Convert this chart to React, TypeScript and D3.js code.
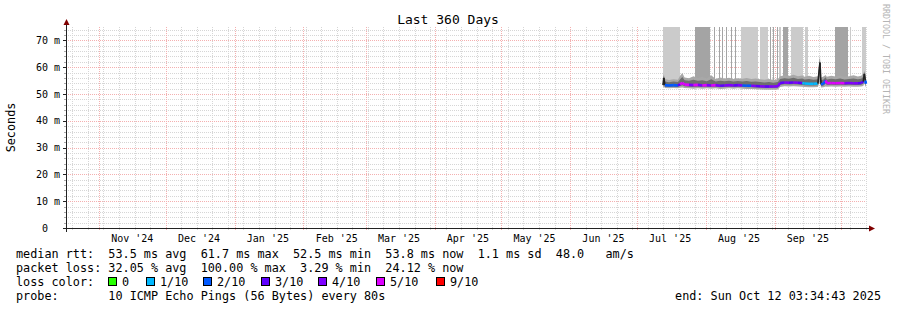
import React from 'react';
import * as d3 from 'd3';

const startTime = '2024-10-17T03:34:43Z';
const endTime = '2025-10-12T03:34:43Z';

const yTickValues = [0, 10, 20, 30, 40, 50, 60, 70];
const yTickLabels = ['0', '10 m', '20 m', '30 m', '40 m', '50 m', '60 m', '70 m'];

const monthStarts = ['2024-11-01', '2024-12-01', '2025-01-01', '2025-02-01', '2025-03-01', '2025-04-01', '2025-05-01', '2025-06-01', '2025-07-01', '2025-08-01', '2025-09-01', '2025-10-01'];
const monthLabels = ["Nov '24", "Dec '24", "Jan '25", "Feb '25", "Mar '25", "Apr '25", "May '25", "Jun '25", "Jul '25", "Aug '25", "Sep '25", ''];

// median rtt series (ms), loss count (out of 10), smoke range (ms)
const pointTimes = [
  '2025-07-12T19:00Z', '2025-07-13T04:00Z', '2025-07-13T16:00Z', '2025-07-15T12:00Z', '2025-07-17T12:00Z',
  '2025-07-19T12:00Z', '2025-07-20T12:00Z', '2025-07-21T12:00Z', '2025-07-22T12:00Z', '2025-07-24T12:00Z',
  '2025-07-26T12:00Z', '2025-07-28T12:00Z', '2025-07-30T12:00Z', '2025-08-01T12:00Z', '2025-08-03T12:00Z',
  '2025-08-05T12:00Z', '2025-08-07T12:00Z', '2025-08-09T12:00Z', '2025-08-11T12:00Z', '2025-08-13T12:00Z',
  '2025-08-15T12:00Z', '2025-08-17T12:00Z', '2025-08-19T12:00Z', '2025-08-21T12:00Z', '2025-08-23T12:00Z',
  '2025-08-25T12:00Z', '2025-08-27T12:00Z', '2025-08-29T12:00Z', '2025-08-31T12:00Z', '2025-09-02T12:00Z',
  '2025-09-03T12:00Z', '2025-09-05T12:00Z', '2025-09-07T12:00Z', '2025-09-09T12:00Z', '2025-09-11T12:00Z',
  '2025-09-13T12:00Z', '2025-09-14T12:00Z', '2025-09-16T12:00Z', '2025-09-18T12:00Z', '2025-09-20T12:00Z',
  '2025-09-21T10:00Z', '2025-09-21T22:00Z', '2025-09-23T00:00Z', '2025-09-24T00:00Z', '2025-09-24T12:00Z',
  '2025-09-26T12:00Z', '2025-09-28T12:00Z', '2025-09-30T12:00Z', '2025-10-02T12:00Z', '2025-10-04T12:00Z',
  '2025-10-06T12:00Z', '2025-10-08T12:00Z', '2025-10-10T00:00Z', '2025-10-10T22:00Z', '2025-10-11T10:00Z',
  '2025-10-11T20:00Z', '2025-10-12T03:34Z',
];
const medianMs = [
  53.3, 56.0, 53.3, 53.2, 53.3, 53.2, 53.6, 54.2, 53.5, 53.4,
  53.3, 53.4, 53.2, 53.3, 53.2, 53.3, 53.1, 53.2, 53.3, 53.2,
  53.3, 53.2, 53.1, 53.1, 53.0, 52.9, 52.8, 52.8, 52.8, 52.9,
  54.1, 54.3, 54.2, 54.3, 54.2, 54.1, 53.9, 53.8, 53.8, 53.9,
  61.7, 53.6, 53.8, 55.0, 54.0, 54.1, 54.0, 54.1, 54.0, 54.1,
  54.0, 54.0, 54.1, 54.6, 57.5, 55.0, 53.8,
];
const lossCount = [
  9, 2, 2, 2, 2, 2, 3, 5, 5, 5,
  4, 5, 4, 5, 4, 5, 4, 3, 4, 4,
  3, 4, 2, 2, 4, 3, 4, 3, 4, 4,
  4, 3, 4, 3, 4, 3, 1, 1, 1, 1,
  2, 2, 2, 2, 5, 5, 5, 5, 5, 4,
  4, 4, 3, 3, 3, 3, 2,
];
const smokeLo = [
  52.4, 52.8, 52.2, 52.1, 52.2, 52.1, 52.3, 52.4, 52.2, 52.1,
  52.0, 52.1, 52.0, 52.1, 52.0, 52.1, 51.9, 52.0, 52.1, 52.0,
  52.1, 52.0, 51.9, 51.9, 51.8, 51.7, 51.6, 51.6, 51.6, 51.7,
  52.6, 52.9, 52.8, 52.9, 52.8, 52.7, 52.6, 52.5, 52.5, 52.6,
  54.5, 52.4, 52.5, 52.8, 52.7, 52.8, 52.7, 52.8, 52.7, 52.8,
  52.7, 52.7, 52.8, 53.0, 54.0, 53.0, 52.6,
];
const smokeHi = [
  55.3, 57.5, 55.6, 55.2, 55.5, 55.3, 56.8, 57.8, 56.2, 55.9,
  56.6, 56.0, 56.4, 55.8, 57.0, 55.6, 56.2, 55.8, 56.1, 55.6,
  55.9, 55.7, 56.0, 55.6, 55.8, 55.5, 55.3, 55.6, 55.2, 55.5,
  56.6, 57.0, 56.7, 57.2, 56.6, 56.9, 56.4, 56.8, 56.3, 56.6,
  64.5, 56.2, 56.5, 57.1, 56.4, 56.8, 56.5, 56.9, 56.4, 56.6,
  57.0, 56.5, 56.8, 57.6, 58.8, 57.1, 55.8,
];

// periods where some pings went off the top of the graph
const bandStarts = [
  '2025-07-12T19:00Z', '2025-07-27T04:30Z', '2025-08-04T17:45Z', '2025-08-06T23:45Z', '2025-08-08T08:10Z',
  '2025-08-10T03:20Z', '2025-08-12T09:20Z', '2025-08-14T04:30Z', '2025-08-16T21:20Z', '2025-08-25T10:30Z',
  '2025-08-29T22:30Z', '2025-08-31T07:00Z', '2025-09-02T02:10Z', '2025-09-02T23:45Z', '2025-09-04T19:00Z',
  '2025-09-08T09:20Z', '2025-09-14T16:30Z', '2025-09-28T04:30Z', '2025-10-04T22:30Z', '2025-10-10T08:10Z',
];
const bandEnds = [
  '2025-07-20T10:30Z', '2025-08-02T22:30Z', '2025-08-05T04:30Z', '2025-08-07T10:30Z', '2025-08-08T19:00Z',
  '2025-08-10T14:00Z', '2025-08-12T20:00Z', '2025-08-14T15:15Z', '2025-08-24T13:00Z', '2025-08-29T01:00Z',
  '2025-08-30T09:15Z', '2025-08-31T23:00Z', '2025-09-02T18:30Z', '2025-09-03T21:20Z', '2025-09-07T01:00Z',
  '2025-09-13T19:00Z', '2025-09-16T01:00Z', '2025-10-04T01:00Z', '2025-10-05T09:20Z', '2025-10-12T03:20Z',
];
const bandShade = [
  'light', 'dark', 'dark', 'dark', 'dark',
  'dark', 'dark', 'dark', 'light', 'light',
  'dark', 'dark', 'dark', 'light', 'dark',
  'light', 'light', 'dark', 'light', 'light',
];

const legendLossLabels = ['0', '1/10', '2/10', '3/10', '4/10', '5/10', '9/10'];
const legendLossColors = ['#26ff00', '#00b8ff', '#0059ff', '#5e00ff', '#7e00ff', '#dd00ff', '#ff0000'];

const lossColor = (n: number) => {
  if (n <= 0) return legendLossColors[0];
  if (n === 1) return legendLossColors[1];
  if (n === 2) return legendLossColors[2];
  if (n === 3) return legendLossColors[3];
  if (n === 4) return legendLossColors[4];
  if (n < 9) return legendLossColors[5];
  return legendLossColors[6];
};

const FONT = '"DejaVu Sans Mono", monospace';

export default function App() {
  const W = 897, H = 310;
  const X0 = 66, X1 = 866, Y0 = 228, Y1 = 27;
  const t0 = new Date(startTime), t1 = new Date(endTime);
  const x = d3.scaleUtc().domain([t0, t1]).range([X0, X1]);
  const y = d3.scaleLinear().domain([0, 75]).range([Y0, Y1]);

  const pts = pointTimes.map((t, i) => ({
    t: new Date(t), m: medianMs[i], l: lossCount[i], lo: smokeLo[i], hi: smokeHi[i],
  }));

  const weeks = d3.utcSunday.range(t0, t1);
  const months = monthStarts.map((s) => new Date(s + 'T00:00:00Z'));
  const minorY = d3.range(2, 75, 2).filter((v) => v % 10 !== 0);

  const smokeArea = d3.area<any>().x((d) => x(d.t)).y0((d) => y(d.lo)).y1((d) => y(d.hi));
  const innerArea = d3.area<any>().x((d) => x(d.t))
    .y0((d) => y((d.lo + d.m) / 2)).y1((d) => y(d.m + (d.hi - d.m) * 0.6));

  const segs = pts.slice(1).map((p, i) => ({ a: pts[i], b: p }));

  const legendSquares = [108, 146, 203, 261, 318, 376, 436];

  return (
    <svg width={W} height={H} style={{ display: 'block', position: 'absolute', left: 0, top: 0, background: '#fff' }}
      xmlns="http://www.w3.org/2000/svg">
      <rect x={0} y={0} width={W} height={H} fill="#fff" />
      {/* minor grid */}
      <g stroke="#d6d6d6" strokeWidth={1} strokeDasharray="1,1" shapeRendering="crispEdges">
        {minorY.map((v) => (
          <line key={'hy' + v} x1={X0} x2={X1} y1={Math.round(y(v)) + 0.5} y2={Math.round(y(v)) + 0.5} />
        ))}
        {weeks.map((d, i) => (
          <line key={'wx' + i} x1={Math.round(x(d)) + 0.5} x2={Math.round(x(d)) + 0.5} y1={Y1} y2={Y0 + 2} />
        ))}
      </g>
      {/* major grid */}
      <g stroke="#f4b0b0" strokeWidth={1} strokeDasharray="1,1" shapeRendering="crispEdges">
        {yTickValues.filter((v) => v > 0).map((v) => (
          <line key={'my' + v} x1={X0} x2={X1} y1={Math.round(y(v)) + 0.5} y2={Math.round(y(v)) + 0.5} />
        ))}
        {months.map((d, i) => (
          <line key={'mx' + i} x1={Math.round(x(d)) + 0.5} x2={Math.round(x(d)) + 0.5} y1={Y1} y2={Y0 + 3} />
        ))}
      </g>
      {/* off-scale smoke bands */}
      <g shapeRendering="crispEdges">
        {bandStarts.map((s, i) => {
          const xa = x(new Date(s)), xb = x(new Date(bandEnds[i]));
          return (
            <rect key={'b' + i} x={xa} y={y(75)} width={Math.max(1, xb - xa)} height={y(55) - y(75)}
              fill={bandShade[i] === 'dark' ? '#a4a4a4' : '#cbcbcb'} />
          );
        })}
      </g>
      {/* smoke */}
      <path d={smokeArea(pts) || ''} fill="#a8a8a8" />
      <path d={innerArea(pts) || ''} fill="#6e6e6e" />
      {/* median colored by loss */}
      <g fill="none" strokeLinejoin="round">
        {segs.map((s, i) => {
          const spike = Math.abs(s.b.m - s.a.m) > 2;
          return (
            <line key={'s' + i} x1={x(s.a.t)} y1={y(s.a.m)} x2={x(s.b.t)} y2={y(s.b.m)}
              stroke={spike ? '#202020' : lossColor(s.b.l)} strokeWidth={spike ? 1.6 : 2.6} />
          );
        })}
      </g>
      {/* axes */}
      <g stroke="#222" strokeWidth={1} shapeRendering="crispEdges">
        <line x1={63} x2={870} y1={Y0 + 0.5} y2={Y0 + 0.5} />
        <line x1={X0 + 0.5} x2={X0 + 0.5} y1={Y0 + 4} y2={23} />
        {yTickValues.map((v) => (
          <line key={'yt' + v} x1={63} x2={X0} y1={Math.round(y(v)) + 0.5} y2={Math.round(y(v)) + 0.5} />
        ))}
        {minorY.map((v) => (
          <line key={'ymt' + v} x1={64} x2={X0} y1={Math.round(y(v)) + 0.5} y2={Math.round(y(v)) + 0.5} stroke="#aaa" />
        ))}
      </g>
      <path d={`M${X0 + 0.5},19 L${X0 + 3.5},25 L${X0 - 2.5},25 Z`} fill="#800000" />
      <path d={`M875,${Y0 + 0.5} L869,${Y0 - 2.5} L869,${Y0 + 3.5} Z`} fill="#800000" />
      {/* y labels */}
      <g fontFamily={FONT} fontSize={10} fill="#000">
        {yTickValues.map((v, i) => (
          v === 0
            ? <text key={'yl' + v} x={48} y={y(v) + 3.6} textAnchor="end">{yTickLabels[i]}</text>
            : <text key={'yl' + v} x={60} y={y(v) + 3.6} textAnchor="end">{yTickLabels[i]}</text>
        ))}
        {months.map((d, i) => {
          const c = d3.utcDay.offset(d, 15);
          if (c > t1 || !monthLabels[i]) return null;
          return <text key={'xl' + i} x={x(c)} y={241.5} textAnchor="middle">{monthLabels[i]}</text>;
        })}
      </g>
      {/* title & side labels */}
      <text x={448} y={24} textAnchor="middle" fontFamily={FONT} fontSize={13} fill="#000">Last 360 Days</text>
      <text transform="translate(15,127.5) rotate(-90)" textAnchor="middle" fontFamily={FONT} fontSize={11.8} fill="#000">Seconds</text>
      <text transform="translate(883,4) rotate(90)" textAnchor="start" fontFamily={FONT} fontSize={8.3} fill="#b4b4b4">RRDTOOL / TOBI OETIKER</text>
      {/* legend */}
      <g fontFamily={FONT} fontSize={11.8} fill="#000" style={{ whiteSpace: 'pre' }}>
        <text x={16} y={258} xmlSpace="preserve">median rtt:  53.5 ms avg  61.7 ms max  52.5 ms min  53.8 ms now  1.1 ms sd  48.0   am/s</text>
        <text x={16} y={272} xmlSpace="preserve">packet loss: 32.05 % avg  100.00 % max  3.29 % min  24.12 % now</text>
        <text x={16} y={286} xmlSpace="preserve">loss color:</text>
        {legendLossLabels.map((lab, i) => (
          <g key={'lg' + i}>
            <rect x={legendSquares[i] + 0.5} y={277.5} width={8} height={8} fill={legendLossColors[i]} stroke="#000" strokeWidth={1} />
            <text x={legendSquares[i] + 14} y={286}>{lab}</text>
          </g>
        ))}
        <text x={16} y={300} xmlSpace="preserve">probe:       10 ICMP Echo Pings (56 Bytes) every 80s</text>
        <text x={881} y={300} textAnchor="end" xmlSpace="preserve">end: Sun Oct 12 03:34:43 2025</text>
      </g>
    </svg>
  );
}
